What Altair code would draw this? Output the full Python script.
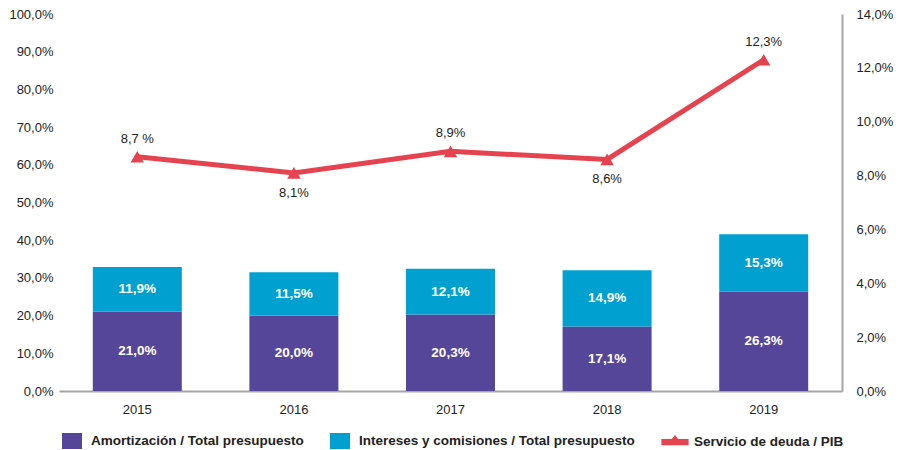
import altair as alt
import pandas as pd

years = ["2015", "2016", "2017", "2018", "2019"]
amortizacion = [21.0, 20.0, 20.3, 17.1, 26.3]
intereses = [11.9, 11.5, 12.1, 14.9, 15.3]
servicio = [8.7, 8.1, 8.9, 8.6, 12.3]
servicio_labels = ["8,7 %", "8,1%", "8,9%", "8,6%", "12,3%"]
servicio_label_pos = ["arriba", "abajo", "arriba", "abajo", "arriba"]
series = [
    "Amortización / Total presupuesto",
    "Intereses y comisiones / Total presupuesto",
    "Servicio de deuda / PIB",
]
colors = ["#56469A", "#00A0D1", "#E5434F"]
left_ticks = [0, 10, 20, 30, 40, 50, 60, 70, 80, 90, 100]
right_ticks = [0, 2, 4, 6, 8, 10, 12, 14]


def fmt(v):
    return f"{v:.1f}".replace(".", ",") + "%"


rows = []
for i, y in enumerate(years):
    a, b = amortizacion[i], intereses[i]
    rows.append(dict(year=y, serie=series[0], low=0, high=a, mid=a / 2, label=fmt(a)))
    rows.append(dict(year=y, serie=series[1], low=a, high=a + b, mid=a + b / 2, label=fmt(b)))
bar_df = pd.DataFrame(rows)

line_df = pd.DataFrame(
    dict(year=years, value=servicio, label=servicio_labels, pos=servicio_label_pos,
         serie=[series[2]] * len(years))
)

label_expr = "replace(format(datum.value, '.1f'), '.', ',') + '%'"

x_enc = alt.X(
    "year:N",
    sort=years,
    scale=alt.Scale(paddingInner=0.43, paddingOuter=0.215),
    axis=alt.Axis(title=None, labelAngle=0, ticks=False, domainColor="#A6A6A6",
                  domainWidth=2, labelPadding=12, labelFontSize=13, labelColor="#222222"),
)

left_axis = alt.Axis(values=left_ticks, labelExpr=label_expr, domain=False, ticks=False,
                     grid=False, labelPadding=6, labelFontSize=13, labelColor="#222222",
                     title=None)
right_axis = alt.Axis(orient="right", values=right_ticks, labelExpr=label_expr, domain=True,
                      domainColor="#A6A6A6", domainWidth=2, ticks=False, grid=False,
                      labelPadding=14, labelFontSize=13, labelColor="#222222", title=None)

color_scale = alt.Scale(domain=series, range=colors)

sq = "M-1.25,-1H1.25V1H-1.25Z"
ln = "M-1.7,-0.35H-0.4L0,-0.85L0.4,-0.35H1.7V0.45H-1.7Z"
shape_scale = alt.Scale(domain=series, range=[sq, sq, ln])

legend = alt.Legend(title=None, orient="bottom", direction="horizontal", symbolSize=256,
                    symbolOpacity=1, symbolStrokeWidth=0, labelFontSize=13.5,
                    labelFontWeight="bold", labelColor="#222222", labelOffset=11,
                    labelLimit=600, columnPadding=26, offset=12, padding=5)

y_left = alt.Y("low:Q", scale=alt.Scale(domain=[0, 100]), axis=left_axis)

bars = alt.Chart(bar_df).mark_bar(size=89).encode(
    x=x_enc,
    y=y_left,
    y2="high:Q",
    color=alt.Color("serie:N", scale=color_scale, legend=legend),
)
bar_text = alt.Chart(bar_df).mark_text(color="white", fontWeight="bold", fontSize=13.5).encode(
    x=x_enc,
    y=alt.Y("mid:Q", scale=alt.Scale(domain=[0, 100]), axis=left_axis),
    text="label:N",
)
bar_layer = alt.layer(bars, bar_text)

y_right = alt.Y("value:Q", scale=alt.Scale(domain=[0, 14]), axis=right_axis)

line = alt.Chart(line_df).mark_line(color=colors[2], strokeWidth=5).encode(x=x_enc, y=y_right)
points = alt.Chart(line_df).mark_point(shape="triangle-up", filled=True, size=180,
                                        color=colors[2], opacity=1).encode(x=x_enc, y=y_right)
lab_up = alt.Chart(line_df).transform_filter("datum.pos == 'arriba'").mark_text(
    dy=-18, fontSize=13, color="#222222").encode(x=x_enc, y=y_right, text="label:N")
lab_dn = alt.Chart(line_df).transform_filter("datum.pos == 'abajo'").mark_text(
    dy=20, fontSize=13, color="#222222").encode(x=x_enc, y=y_right, text="label:N")
legend_pts = alt.Chart(line_df).mark_point(filled=True, opacity=0).encode(
    x=x_enc,
    y=y_right,
    color=alt.Color("serie:N", scale=color_scale, legend=legend),
    shape=alt.Shape("serie:N", scale=shape_scale, legend=legend),
)
line_layer = alt.layer(line, points, lab_up, lab_dn, legend_pts)

chart = (
    alt.layer(bar_layer, line_layer)
    .resolve_scale(y="independent")
    .properties(width=783, height=377, padding={"left": 0, "top": 0, "right": 0, "bottom": 0})
    .configure(font="Liberation Sans")
    .configure_view(strokeWidth=0)
)

chart.save("out.html", embed_options={"renderer": "svg", "actions": False})
